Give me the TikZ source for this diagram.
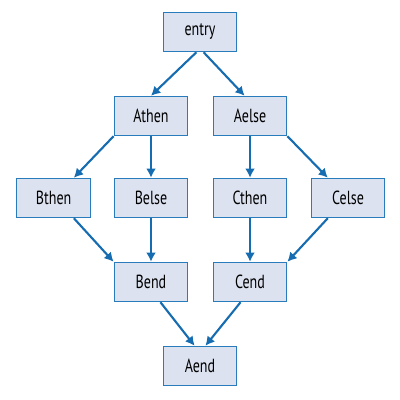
\documentclass[tikz,border=0pt]{standalone}
\usepackage{fontspec}
\setmainfont[FakeStretch=0.74]{PT Sans}
\usepackage{xcolor}
\usepackage{tikz}
\usetikzlibrary{arrows.meta}

\definecolor{boxfill}{RGB}{220,226,240}
\definecolor{boxline}{RGB}{41,124,187}
\definecolor{arrowblue}{RGB}{22,108,176}

\begin{document}
\begin{tikzpicture}[
	block/.style={rectangle, draw=boxline, fill=boxfill, line width=0.9pt,
		minimum width=18.4mm, minimum height=9.8mm, inner sep=0pt,
		font=\fontsize{13.5}{15}\selectfont, text=black},
	flow/.style={-{Latex[length=6.5pt, width=7pt]}, draw=arrowblue, line width=1.5pt}
]
	\useasboundingbox (0,0) rectangle (10,10);

	\node[block] (entry) at (5.0,9.2) {entry};
	\node[block] (Athen) at (3.775,7.1) {Athen};
	\node[block] (Aelse) at (6.25,7.1) {Aelse};
	\node[block] (Bthen) at (1.34,5.05) {Bthen};
	\node[block] (Belse) at (3.775,5.05) {Belse};
	\node[block] (Cthen) at (6.25,5.05) {Cthen};
	\node[block] (Celse) at (8.7,5.05) {Celse};
	\node[block] (Bend) at (3.775,2.95) {Bend};
	\node[block] (Cend) at (6.25,2.95) {Cend};
	\node[block] (Aend) at (5.0,0.85) {Aend};

	\draw[flow] (entry.-100) -- (Athen.north);
	\draw[flow] (entry.-80) -- (Aelse.105);
	\draw[flow] (Athen.south west) -- (Bthen.45);
	\draw[flow] (Athen.south) -- (Belse.north);
	\draw[flow] (Aelse.south) -- (Cthen.north);
	\draw[flow] (Aelse.south east) -- (Celse.135);
	\draw[flow] (Bthen.-45) -- (Bend.north west);
	\draw[flow] (Belse.south) -- (Bend.north);
	\draw[flow] (Cthen.south) -- (Cend.north);
	\draw[flow] (Celse.-135) -- (Cend.north east);
	\draw[flow] (Bend.-65) -- (Aend.105);
	\draw[flow] (Cend.-115) -- (Aend.75);
\end{tikzpicture}
\end{document}
